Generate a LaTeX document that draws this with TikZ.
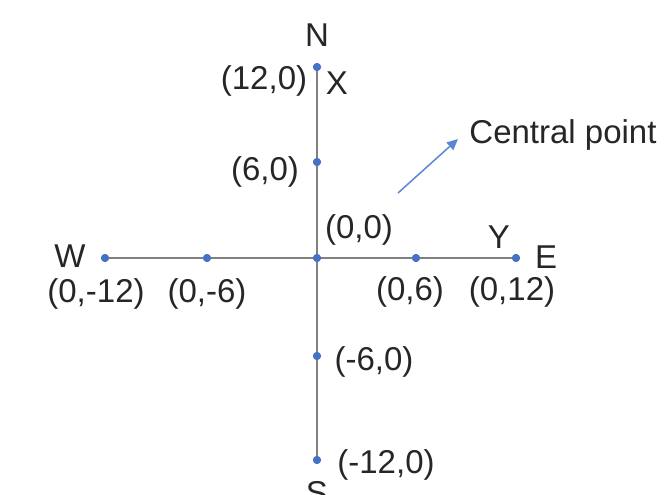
\documentclass[tikz,border=0pt]{standalone}
\usepackage{fontspec}
\setmainfont{Liberation Sans}
\usetikzlibrary{arrows.meta}
\definecolor{axisgray}{HTML}{808080}
\definecolor{dotblue}{HTML}{4472C4}
\definecolor{arrowblue}{HTML}{5B86D6}
\definecolor{txt}{HTML}{262626}
\begin{document}
\begin{tikzpicture}[x=1pt,y=-1pt,
  lbl/.style={inner sep=0pt,anchor=base,text=txt,font=\fontsize{33}{38}\selectfont},
  axis/.style={draw=axisgray,line width=2pt},
  pt/.style={circle,fill=dotblue,inner sep=0pt,minimum size=8pt}]
\useasboundingbox (0,0) rectangle (667,495);
\clip (0,0) rectangle (667,495);
% points
\node[pt] (n12) at (317,67) {};
\node[pt] (n6) at (317,162) {};
\node[pt] (c) at (317,258) {};
\node[pt] (s6) at (317,356) {};
\node[pt] (s12) at (317,460) {};
\node[pt] (w12) at (105,258) {};
\node[pt] (w6) at (207,258) {};
\node[pt] (e6) at (416,258) {};
\node[pt] (e12) at (516,258) {};
% axes
\draw[axis] (n12.center) -- (s12.center);
\draw[axis] (w12.center) -- (e12.center);
\foreach \p in {n12,n6,c,s6,s12,w12,w6,e6,e12}{\fill[dotblue] (\p) circle[radius=4pt];}
% labels
\node[lbl] (N) at (317,47) {N};
\node[lbl] (S) at (317,504) {S};
\node[lbl] (W) at (70,267) {W};
\node[lbl] (E) at (546,268) {E};
\node[lbl] (X) at (337,95) {X};
\node[lbl] (Y) at (499,248) {Y};
\node[lbl] (l1) at (264,89) {(12,0)};
\node[lbl] (l2) at (265,180) {(6,0)};
\node[lbl] (l3) at (359,238) {(0,0)};
\node[lbl] (l4) at (374,370) {(-6,0)};
\node[lbl] (l5) at (386,473) {(-12,0)};
\node[lbl] (l6) at (96,302) {(0,-12)};
\node[lbl] (l7) at (207,302) {(0,-6)};
\node[lbl] (l8) at (410,300) {(0,6)};
\node[lbl] (l9) at (512,300) {(0,12)};
\node[lbl] (cp) at (563,143) {Central point};
\coordinate (tail) at (398,193);
\coordinate (head) at (458,139);
\draw[arrowblue,line width=1.5pt,-{Triangle[length=11pt,width=10pt]}] (tail) -- (head);
\end{tikzpicture}
\end{document}
